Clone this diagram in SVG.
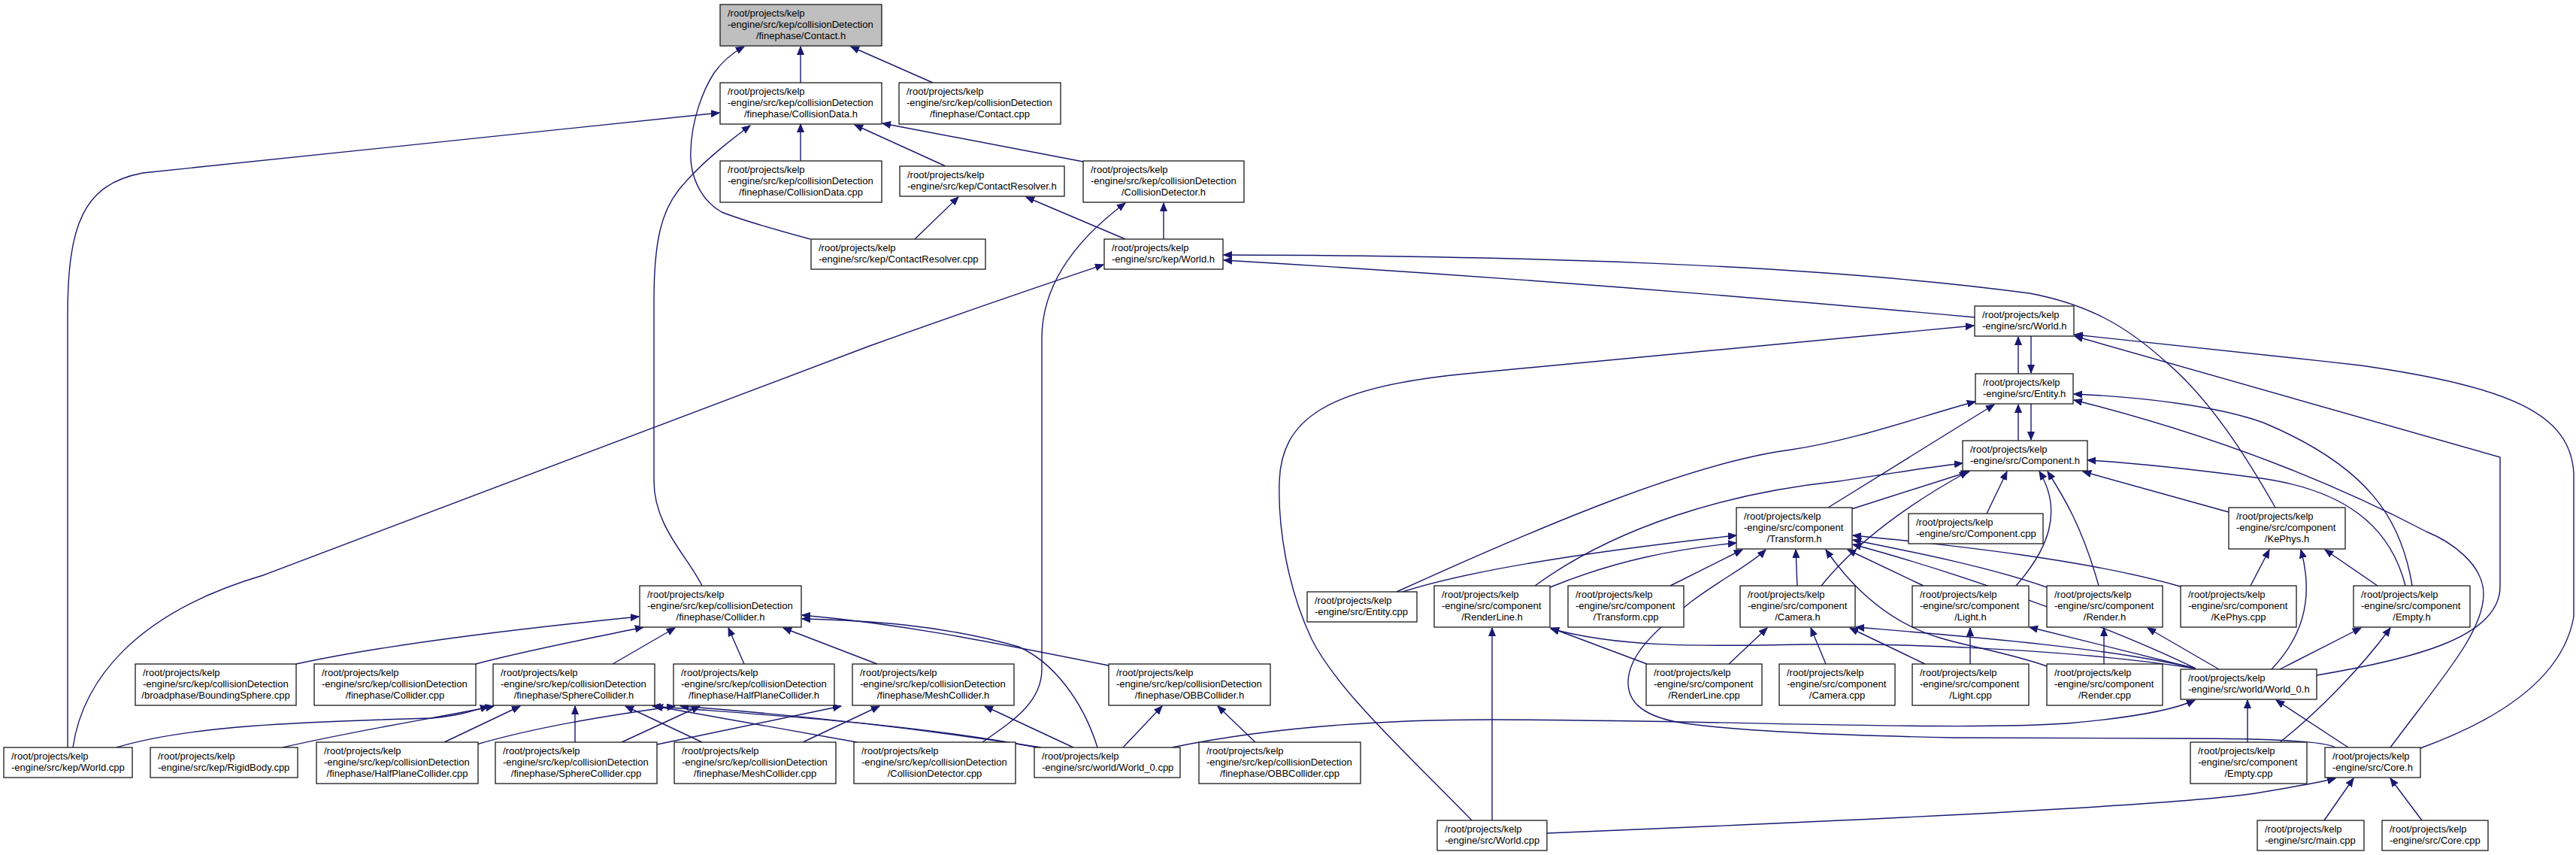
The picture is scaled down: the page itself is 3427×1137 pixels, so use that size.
<svg xmlns="http://www.w3.org/2000/svg" width="3427" height="1137" viewBox="0 0 3427 1137">
<style>
.node rect{fill:#fff;stroke:#1a1a1a;stroke-width:1.3}
.node.hl rect{fill:#bfbfbf}
.node text{font-family:"Liberation Sans",Arial,sans-serif;font-size:13px;fill:#000}
.c{text-anchor:middle}
.edge path{fill:none;stroke:#191970;stroke-width:1.4;marker-end:url(#ah)}
</style>
<defs>
<marker id="ah" markerUnits="userSpaceOnUse" viewBox="0 0 12 10" markerWidth="12" markerHeight="10" refX="11" refY="5" orient="auto">
<path d="M0,0.5 L11,5 L0,9.5 z" fill="#191970" stroke="#191970" stroke-width="1"/>
</marker>
</defs>
<rect width="3427" height="1137" fill="#fff"/>
<g id="connectors" class="edge">
<path d="M1065,110 L1065,62"/>
<path d="M1241,110 L1132,62"/>
<path d="M1078,318 C1030,305 985,292 960,282 C930,265 917,230 919,200 C920,160 935,120 950,97 C962,80 975,70 990,62"/>
<path d="M90,994 L90,420 C90,300 110,245 190,230 L957,150"/>
<path d="M1065,214 L1065,165"/>
<path d="M1258,221 L1137,166"/>
<path d="M1441,215 L1174,164"/>
<path d="M934,779 C915,740 870,700 870,640 L870,400 C870,320 880,280 905,250 C930,220 960,195 998,167"/>
<path d="M1217,318 L1275,262"/>
<path d="M1497,318 L1365,262"/>
<path d="M1548,318 L1548,270"/>
<path d="M1307,987 C1345,960 1386,935 1386,890 L1386,450 C1386,380 1430,320 1497,270"/>
<path d="M97,994 C110,905 180,815 350,765 L1157,460 C1290,412 1400,375 1468,352"/>
<path d="M2627,422 C2300,392 1950,365 1628,346"/>
<path d="M3027,675 C2990,610 2940,530 2880,480 C2830,435 2780,405 2700,390 C2400,350 2000,340 1628,339"/>
<path d="M1958,1091 C1880,1010 1780,920 1745,850 C1712,780 1700,700 1702,640 C1705,560 1760,515 1950,497 L2626,433"/>
<path d="M2685,497 L2685,448"/>
<path d="M2702,447 L2702,496"/>
<path d="M2685,586 L2685,538"/>
<path d="M2702,537 L2702,585"/>
<path d="M3082,898 C3200,878 3326,850 3326,780 L3326,608 L2760,447"/>
<path d="M3220,995 C3330,955 3410,900 3424,820 L3424,630 C3420,550 3340,515 3141,486 C3000,470 2850,455 2760,445"/>
<path d="M1858,787 C2050,700 2250,615 2383,598 C2470,585 2560,552 2628,534"/>
<path d="M2432,675 L2653,538"/>
<path d="M3209,779 C3195,690 3150,620 3011,562 C2950,540 2850,528 2759,524"/>
<path d="M3180,994 C3250,900 3304,840 3304,790 C3304,750 3260,720 3228,707 C3100,640 2950,580 2759,532"/>
<path d="M2042,779 C2150,700 2300,655 2446,640 C2500,632 2560,622 2611,616"/>
<path d="M2463,677 L2620,627"/>
<path d="M2423,779 C2470,720 2540,670 2618,627"/>
<path d="M2643,683 L2670,627"/>
<path d="M2682,779 C2725,730 2745,680 2713,627"/>
<path d="M2792,779 C2770,700 2745,660 2724,627"/>
<path d="M2965,681 L2771,627"/>
<path d="M3200,779 C3180,700 3120,650 3000,635 C2900,622 2830,615 2777,612"/>
<path d="M1866,787 C1950,760 2100,735 2310,712"/>
<path d="M2062,781 C2150,745 2230,730 2310,722"/>
<path d="M2222,779 L2318,731"/>
<path d="M2391,779 L2389,731"/>
<path d="M2559,779 L2458,731"/>
<path d="M2723,781 C2650,755 2550,735 2465,718"/>
<path d="M2901,780 C2780,745 2600,725 2465,712"/>
<path d="M2921,889 C2800,830 2600,760 2465,724"/>
<path d="M2723,886 C2680,870 2620,860 2580,848 C2520,830 2470,790 2429,731"/>
<path d="M3107,994 C3090,984 3000,982 2900,982 L2600,981 C2450,978 2300,972 2230,960 C2180,950 2165,930 2166,905 C2168,870 2200,840 2250,800 C2290,770 2330,750 2349,731"/>
<path d="M2300,883 L2351,835"/>
<path d="M2429,883 L2409,835"/>
<path d="M2561,883 L2461,835"/>
<path d="M2921,889 C2800,860 2600,845 2469,834"/>
<path d="M2191,883 L2063,835"/>
<path d="M1985,1091 L1985,835"/>
<path d="M2921,889 C2800,870 2600,855 2400,857 C2250,860 2150,860 2063,836"/>
<path d="M2621,883 L2621,835"/>
<path d="M2921,889 L2700,834"/>
<path d="M2799,883 L2799,835"/>
<path d="M2952,890 L2857,835"/>
<path d="M2994,779 L3019,731"/>
<path d="M3022,890 C3060,850 3080,800 3061,731"/>
<path d="M3163,779 L3093,731"/>
<path d="M3033,890 L3141,835"/>
<path d="M3033,987 C3080,950 3140,890 3180,835"/>
<path d="M1559,994 C1700,965 1850,957 1985,957 C2300,958 2600,972 2750,962 C2830,955 2890,945 2920,931"/>
<path d="M2990,987 L2990,931"/>
<path d="M3124,994 L3028,931"/>
<path d="M3092,1091 L3131,1035"/>
<path d="M3222,1091 L3180,1035"/>
<path d="M2058,1108 C2500,1090 2900,1070 3000,1055 C3060,1045 3090,1040 3107,1035"/>
<path d="M394,883 C500,860 650,840 850,820"/>
<path d="M633,883 C700,865 780,850 856,834"/>
<path d="M815,883 L898,835"/>
<path d="M990,883 L969,835"/>
<path d="M1167,883 L1042,835"/>
<path d="M1475,885 C1300,850 1200,830 1067,818"/>
<path d="M1460,994 C1440,930 1400,880 1355,860 C1250,830 1150,825 1067,823"/>
<path d="M155,994 C250,965 400,960 574,955 C610,952 630,945 650,939"/>
<path d="M376,994 C480,970 580,955 657,939"/>
<path d="M591,987 L692,939"/>
<path d="M765,987 L765,939"/>
<path d="M934,987 L832,939"/>
<path d="M1140,987 L871,939"/>
<path d="M1380,994 C1200,960 1000,950 868,939"/>
<path d="M634,990 C720,965 820,950 898,939"/>
<path d="M827,987 L931,939"/>
<path d="M1385,994 C1200,965 1050,950 905,939"/>
<path d="M874,990 L1119,939"/>
<path d="M1068,987 L1170,939"/>
<path d="M1428,994 L1310,939"/>
<path d="M1494,994 L1546,939"/>
<path d="M1670,987 L1620,939"/>
</g>
<g id="n_contact_h" class="node hl"><rect x="958" y="6" width="215" height="55"/><text><tspan x="968" y="22">/root/projects/kelp</tspan><tspan x="968" y="37">-engine/src/kep/collisionDetection</tspan><tspan class="c" x="1065.5" y="51.5">/finephase/Contact.h</tspan></text></g>
<g id="n_collisiondata_h" class="node"><rect x="958" y="110" width="215" height="55"/><text><tspan x="968" y="126">/root/projects/kelp</tspan><tspan x="968" y="141">-engine/src/kep/collisionDetection</tspan><tspan class="c" x="1065.5" y="155.5">/finephase/CollisionData.h</tspan></text></g>
<g id="n_contact_cpp" class="node"><rect x="1196" y="110" width="215" height="55"/><text><tspan x="1206" y="126">/root/projects/kelp</tspan><tspan x="1206" y="141">-engine/src/kep/collisionDetection</tspan><tspan class="c" x="1303.5" y="155.5">/finephase/Contact.cpp</tspan></text></g>
<g id="n_collisiondata_cpp" class="node"><rect x="958" y="214" width="215" height="55"/><text><tspan x="968" y="230">/root/projects/kelp</tspan><tspan x="968" y="245">-engine/src/kep/collisionDetection</tspan><tspan class="c" x="1065.5" y="259.5">/finephase/CollisionData.cpp</tspan></text></g>
<g id="n_contactresolver_h" class="node"><rect x="1197" y="221" width="219" height="40"/><text><tspan x="1207" y="237">/root/projects/kelp</tspan><tspan x="1207" y="252">-engine/src/kep/ContactResolver.h</tspan></text></g>
<g id="n_collisiondetector_h" class="node"><rect x="1441" y="214" width="214" height="55"/><text><tspan x="1451" y="230">/root/projects/kelp</tspan><tspan x="1451" y="245">-engine/src/kep/collisionDetection</tspan><tspan class="c" x="1548" y="259.5">/CollisionDetector.h</tspan></text></g>
<g id="n_contactresolver_cpp" class="node"><rect x="1079" y="318" width="232" height="40"/><text><tspan x="1089" y="334">/root/projects/kelp</tspan><tspan x="1089" y="349">-engine/src/kep/ContactResolver.cpp</tspan></text></g>
<g id="n_kep_world_h" class="node"><rect x="1469" y="318" width="158" height="40"/><text><tspan x="1479" y="334">/root/projects/kelp</tspan><tspan x="1479" y="349">-engine/src/kep/World.h</tspan></text></g>
<g id="n_src_world_h" class="node"><rect x="2627" y="407" width="132" height="40"/><text><tspan x="2637" y="423">/root/projects/kelp</tspan><tspan x="2637" y="438">-engine/src/World.h</tspan></text></g>
<g id="n_entity_h" class="node"><rect x="2628" y="497" width="130" height="40"/><text><tspan x="2638" y="513">/root/projects/kelp</tspan><tspan x="2638" y="528">-engine/src/Entity.h</tspan></text></g>
<g id="n_component_h" class="node"><rect x="2611" y="586" width="166" height="40"/><text><tspan x="2621" y="602">/root/projects/kelp</tspan><tspan x="2621" y="617">-engine/src/Component.h</tspan></text></g>
<g id="n_transform_h" class="node"><rect x="2310" y="675" width="154" height="55"/><text><tspan x="2320" y="691">/root/projects/kelp</tspan><tspan x="2320" y="706">-engine/src/component</tspan><tspan class="c" x="2387" y="720.5">/Transform.h</tspan></text></g>
<g id="n_component_cpp" class="node"><rect x="2539" y="683" width="179" height="40"/><text><tspan x="2549" y="699">/root/projects/kelp</tspan><tspan x="2549" y="714">-engine/src/Component.cpp</tspan></text></g>
<g id="n_kephys_h" class="node"><rect x="2965" y="675" width="155" height="55"/><text><tspan x="2975" y="691">/root/projects/kelp</tspan><tspan x="2975" y="706">-engine/src/component</tspan><tspan class="c" x="3042.5" y="720.5">/KePhys.h</tspan></text></g>
<g id="n_entity_cpp" class="node"><rect x="1739" y="787" width="146" height="40"/><text><tspan x="1749" y="803">/root/projects/kelp</tspan><tspan x="1749" y="818">-engine/src/Entity.cpp</tspan></text></g>
<g id="n_renderline_h" class="node"><rect x="1908" y="779" width="154" height="55"/><text><tspan x="1918" y="795">/root/projects/kelp</tspan><tspan x="1918" y="810">-engine/src/component</tspan><tspan class="c" x="1985" y="824.5">/RenderLine.h</tspan></text></g>
<g id="n_transform_cpp" class="node"><rect x="2086" y="779" width="154" height="55"/><text><tspan x="2096" y="795">/root/projects/kelp</tspan><tspan x="2096" y="810">-engine/src/component</tspan><tspan class="c" x="2163" y="824.5">/Transform.cpp</tspan></text></g>
<g id="n_camera_h" class="node"><rect x="2315" y="779" width="153" height="55"/><text><tspan x="2325" y="795">/root/projects/kelp</tspan><tspan x="2325" y="810">-engine/src/component</tspan><tspan class="c" x="2391.5" y="824.5">/Camera.h</tspan></text></g>
<g id="n_light_h" class="node"><rect x="2544" y="779" width="155" height="55"/><text><tspan x="2554" y="795">/root/projects/kelp</tspan><tspan x="2554" y="810">-engine/src/component</tspan><tspan class="c" x="2621.5" y="824.5">/Light.h</tspan></text></g>
<g id="n_render_h" class="node"><rect x="2723" y="779" width="154" height="55"/><text><tspan x="2733" y="795">/root/projects/kelp</tspan><tspan x="2733" y="810">-engine/src/component</tspan><tspan class="c" x="2800" y="824.5">/Render.h</tspan></text></g>
<g id="n_kephys_cpp" class="node"><rect x="2901" y="779" width="154" height="55"/><text><tspan x="2911" y="795">/root/projects/kelp</tspan><tspan x="2911" y="810">-engine/src/component</tspan><tspan class="c" x="2978" y="824.5">/KePhys.cpp</tspan></text></g>
<g id="n_empty_h" class="node"><rect x="3131" y="779" width="155" height="55"/><text><tspan x="3141" y="795">/root/projects/kelp</tspan><tspan x="3141" y="810">-engine/src/component</tspan><tspan class="c" x="3208.5" y="824.5">/Empty.h</tspan></text></g>
<g id="n_renderline_cpp" class="node"><rect x="2190" y="883" width="154" height="55"/><text><tspan x="2200" y="899">/root/projects/kelp</tspan><tspan x="2200" y="914">-engine/src/component</tspan><tspan class="c" x="2267" y="928.5">/RenderLine.cpp</tspan></text></g>
<g id="n_camera_cpp" class="node"><rect x="2367" y="883" width="154" height="55"/><text><tspan x="2377" y="899">/root/projects/kelp</tspan><tspan x="2377" y="914">-engine/src/component</tspan><tspan class="c" x="2444" y="928.5">/Camera.cpp</tspan></text></g>
<g id="n_light_cpp" class="node"><rect x="2544" y="883" width="155" height="55"/><text><tspan x="2554" y="899">/root/projects/kelp</tspan><tspan x="2554" y="914">-engine/src/component</tspan><tspan class="c" x="2621.5" y="928.5">/Light.cpp</tspan></text></g>
<g id="n_render_cpp" class="node"><rect x="2723" y="883" width="154" height="55"/><text><tspan x="2733" y="899">/root/projects/kelp</tspan><tspan x="2733" y="914">-engine/src/component</tspan><tspan class="c" x="2800" y="928.5">/Render.cpp</tspan></text></g>
<g id="n_world0_h" class="node"><rect x="2901" y="890" width="181" height="40"/><text><tspan x="2911" y="906">/root/projects/kelp</tspan><tspan x="2911" y="921">-engine/src/world/World_0.h</tspan></text></g>
<g id="n_empty_cpp" class="node"><rect x="2914" y="987" width="155" height="55"/><text><tspan x="2924" y="1003">/root/projects/kelp</tspan><tspan x="2924" y="1018">-engine/src/component</tspan><tspan class="c" x="2991.5" y="1032.5">/Empty.cpp</tspan></text></g>
<g id="n_core_h" class="node"><rect x="3093" y="994" width="127" height="40"/><text><tspan x="3103" y="1010">/root/projects/kelp</tspan><tspan x="3103" y="1025">-engine/src/Core.h</tspan></text></g>
<g id="n_main_cpp" class="node"><rect x="3003" y="1091" width="142" height="40"/><text><tspan x="3013" y="1107">/root/projects/kelp</tspan><tspan x="3013" y="1122">-engine/src/main.cpp</tspan></text></g>
<g id="n_core_cpp" class="node"><rect x="3169" y="1091" width="141" height="40"/><text><tspan x="3179" y="1107">/root/projects/kelp</tspan><tspan x="3179" y="1122">-engine/src/Core.cpp</tspan></text></g>
<g id="n_src_world_cpp" class="node"><rect x="1912" y="1091" width="146" height="40"/><text><tspan x="1922" y="1107">/root/projects/kelp</tspan><tspan x="1922" y="1122">-engine/src/World.cpp</tspan></text></g>
<g id="n_collider_h" class="node"><rect x="851" y="779" width="215" height="55"/><text><tspan x="861" y="795">/root/projects/kelp</tspan><tspan x="861" y="810">-engine/src/kep/collisionDetection</tspan><tspan class="c" x="958.5" y="824.5">/finephase/Collider.h</tspan></text></g>
<g id="n_boundingsphere_cpp" class="node"><rect x="180" y="883" width="214" height="55"/><text><tspan x="190" y="899">/root/projects/kelp</tspan><tspan x="190" y="914">-engine/src/kep/collisionDetection</tspan><tspan class="c" x="287" y="928.5">/broadphase/BoundingSphere.cpp</tspan></text></g>
<g id="n_collider_cpp" class="node"><rect x="418" y="883" width="215" height="55"/><text><tspan x="428" y="899">/root/projects/kelp</tspan><tspan x="428" y="914">-engine/src/kep/collisionDetection</tspan><tspan class="c" x="525.5" y="928.5">/finephase/Collider.cpp</tspan></text></g>
<g id="n_spherecollider_h" class="node"><rect x="656" y="883" width="215" height="55"/><text><tspan x="666" y="899">/root/projects/kelp</tspan><tspan x="666" y="914">-engine/src/kep/collisionDetection</tspan><tspan class="c" x="763.5" y="928.5">/finephase/SphereCollider.h</tspan></text></g>
<g id="n_halfplanecollider_h" class="node"><rect x="896" y="883" width="214" height="55"/><text><tspan x="906" y="899">/root/projects/kelp</tspan><tspan x="906" y="914">-engine/src/kep/collisionDetection</tspan><tspan class="c" x="1003" y="928.5">/finephase/HalfPlaneCollider.h</tspan></text></g>
<g id="n_meshcollider_h" class="node"><rect x="1134" y="883" width="215" height="55"/><text><tspan x="1144" y="899">/root/projects/kelp</tspan><tspan x="1144" y="914">-engine/src/kep/collisionDetection</tspan><tspan class="c" x="1241.5" y="928.5">/finephase/MeshCollider.h</tspan></text></g>
<g id="n_obbcollider_h" class="node"><rect x="1475" y="883" width="215" height="55"/><text><tspan x="1485" y="899">/root/projects/kelp</tspan><tspan x="1485" y="914">-engine/src/kep/collisionDetection</tspan><tspan class="c" x="1582.5" y="928.5">/finephase/OBBCollider.h</tspan></text></g>
<g id="n_kep_world_cpp" class="node"><rect x="5" y="994" width="171" height="40"/><text><tspan x="15" y="1010">/root/projects/kelp</tspan><tspan x="15" y="1025">-engine/src/kep/World.cpp</tspan></text></g>
<g id="n_rigidbody_cpp" class="node"><rect x="200" y="994" width="196" height="40"/><text><tspan x="210" y="1010">/root/projects/kelp</tspan><tspan x="210" y="1025">-engine/src/kep/RigidBody.cpp</tspan></text></g>
<g id="n_halfplanecollider_cpp" class="node"><rect x="421" y="987" width="215" height="55"/><text><tspan x="431" y="1003">/root/projects/kelp</tspan><tspan x="431" y="1018">-engine/src/kep/collisionDetection</tspan><tspan class="c" x="528.5" y="1032.5">/finephase/HalfPlaneCollider.cpp</tspan></text></g>
<g id="n_spherecollider_cpp" class="node"><rect x="659" y="987" width="215" height="55"/><text><tspan x="669" y="1003">/root/projects/kelp</tspan><tspan x="669" y="1018">-engine/src/kep/collisionDetection</tspan><tspan class="c" x="766.5" y="1032.5">/finephase/SphereCollider.cpp</tspan></text></g>
<g id="n_meshcollider_cpp" class="node"><rect x="897" y="987" width="215" height="55"/><text><tspan x="907" y="1003">/root/projects/kelp</tspan><tspan x="907" y="1018">-engine/src/kep/collisionDetection</tspan><tspan class="c" x="1004.5" y="1032.5">/finephase/MeshCollider.cpp</tspan></text></g>
<g id="n_collisiondetector_cpp" class="node"><rect x="1136" y="987" width="215" height="55"/><text><tspan x="1146" y="1003">/root/projects/kelp</tspan><tspan x="1146" y="1018">-engine/src/kep/collisionDetection</tspan><tspan class="c" x="1243.5" y="1032.5">/CollisionDetector.cpp</tspan></text></g>
<g id="n_world0_cpp" class="node"><rect x="1376" y="994" width="194" height="40"/><text><tspan x="1386" y="1010">/root/projects/kelp</tspan><tspan x="1386" y="1025">-engine/src/world/World_0.cpp</tspan></text></g>
<g id="n_obbcollider_cpp" class="node"><rect x="1595" y="987" width="215" height="55"/><text><tspan x="1605" y="1003">/root/projects/kelp</tspan><tspan x="1605" y="1018">-engine/src/kep/collisionDetection</tspan><tspan class="c" x="1702.5" y="1032.5">/finephase/OBBCollider.cpp</tspan></text></g>
</svg>
